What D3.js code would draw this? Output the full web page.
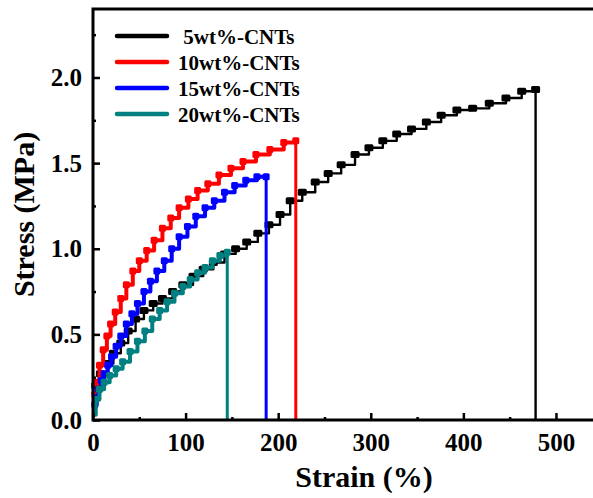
<!DOCTYPE html>
<html>
<head>
<meta charset="utf-8">
<script src="https://cdn.jsdelivr.net/npm/d3@7"></script>
<style>
  html, body { margin: 0; padding: 0; background: #fff; }
  svg { display: block; }
  text { font-family: "Liberation Serif", "Times New Roman", serif; font-weight: bold; fill: #000; }
</style>
</head>
<body>
<svg id="chart" width="593" height="498"></svg>
<script>
// Tensile stress–strain curves of the CNT composites
const seriesNames = [" 5wt%-CNTs", "10wt%-CNTs", "15wt%-CNTs", "20wt%-CNTs"];
const seriesColors = ["#000000", "#ff0000", "#0000ff", "#008080"];

const strain5 = [0,3,8,15,22,30,38,46,55,65,75,86,97,108,119,130,142,154,166,178,190,202,213,226,240,254,268,283,298,313,328,344,360,376,393,410,428,446,463,478];
const stress5 = [0.05,0.2,0.27,0.33,0.39,0.45,0.52,0.59,0.64,0.68,0.71,0.75,0.79,0.84,0.88,0.92,0.97,1.00,1.04,1.09,1.14,1.20,1.28,1.33,1.39,1.44,1.49,1.55,1.59,1.63,1.67,1.70,1.74,1.78,1.81,1.82,1.85,1.88,1.92,1.93];

const strain10 = [0,2,4,7,11,15,19,24,30,36,43,50,58,66,75,84,93,103,113,124,136,149,162,176,191,206,219];
const stress10 = [0.05,0.15,0.22,0.32,0.41,0.49,0.56,0.63,0.71,0.79,0.87,0.93,0.99,1.05,1.12,1.18,1.24,1.29,1.34,1.38,1.43,1.47,1.51,1.55,1.58,1.62,1.63];

const strain15 = [0,2,4,6,9,12,16,20,25,30,36,42,48,55,62,69,77,85,93,102,111,121,131,142,153,165,177,187];
const stress15 = [0.04,0.09,0.13,0.18,0.23,0.27,0.32,0.37,0.43,0.49,0.56,0.62,0.68,0.75,0.81,0.87,0.93,1.00,1.07,1.13,1.19,1.24,1.28,1.33,1.37,1.40,1.42,1.42];

const strain20 = [0,3,7,12,18,25,32,40,48,56,64,72,80,88,97,105,113,121,129,137,145];
const stress20 = [0.03,0.12,0.18,0.22,0.26,0.30,0.34,0.40,0.46,0.52,0.59,0.64,0.69,0.74,0.78,0.82,0.86,0.89,0.93,0.96,0.98];

const xTicks = [0, 100, 200, 300, 400, 500];
const yTicks = [0.0, 0.5, 1.0, 1.5, 2.0];

const strains = [strain5, strain10, strain15, strain20];
const stresses = [stress5, stress10, stress15, stress20];

const svg = d3.select("#chart");
const W = 593, H = 498;
const m = { left: 93, top: 9, right: 0, bottom: 78 };

const x = d3.scaleLinear().domain([0, 540]).range([m.left, W - m.right]);
const y = d3.scaleLinear().domain([0, 2.4]).range([H - m.bottom, m.top]);

const line = d3.line().x(d => x(d[0])).y(d => y(d[1])).curve(d3.curveStepAfter);

[0, 1, 2, 3].forEach(i => {
  const pts = strains[i].map((s, k) => [s, stresses[i][k]]);
  const g = svg.append("g");
  const w = i === 0 ? 2.4 : 4;
  g.append("path")
    .attr("d", line(pts))
    .attr("fill", "none")
    .attr("stroke", seriesColors[i])
    .attr("stroke-width", w)
    .attr("stroke-linejoin", "round");
  // fracture drop to zero stress
  const last = pts[pts.length - 1];
  g.append("line")
    .attr("x1", x(last[0])).attr("x2", x(last[0]))
    .attr("y1", y(last[1])).attr("y2", y(0))
    .attr("stroke", seriesColors[i])
    .attr("stroke-width", i === 0 ? 2.4 : 3);
  // square symbols at each step
  const sw = i === 0 ? 9 : 7, sh = i === 0 ? 7 : 7;
  g.selectAll("rect")
    .data(pts.slice(1))
    .join("rect")
    .attr("x", d => x(d[0]) - sw / 2)
    .attr("y", d => y(d[1]) - sh / 2)
    .attr("width", sw)
    .attr("height", sh)
    .attr("rx", 1.5)
    .attr("fill", seriesColors[i]);
});

// axes
const xAxis = d3.axisBottom(x).tickValues(xTicks).tickSize(-7).tickPadding(13).tickFormat(d3.format("d"));
const xMinor = d3.axisBottom(x).tickValues(d3.range(50, 550, 100)).tickSize(-3).tickFormat("");
const yAxis = d3.axisLeft(y).tickValues(yTicks).tickSize(-7).tickPadding(11).tickFormat(d3.format(".1f"));
const yMinor = d3.axisLeft(y).tickValues([0.25, 0.75, 1.25, 1.75, 2.25]).tickSize(-3).tickFormat("");

function styleAxis(g) {
  g.select(".domain").remove();
  g.selectAll(".tick line").attr("stroke", "#000").attr("stroke-width", 2.5);
  g.selectAll(".tick text").style("font-size", "25px").style("font-family", "Liberation Serif").style("font-weight", "bold");
}

svg.append("g").attr("transform", `translate(0,${y(0)})`).call(xAxis).call(styleAxis);
svg.append("g").attr("transform", `translate(0,${y(0)})`).call(xMinor).call(styleAxis);
svg.append("g").attr("transform", `translate(${x(0)},0)`).call(yAxis).call(styleAxis);
svg.append("g").attr("transform", `translate(${x(0)},0)`).call(yMinor).call(styleAxis);

// frame: left, bottom and top borders
svg.append("path")
  .attr("d", `M${W},${m.top}H${x(0)}V${y(0)}H${W}`)
  .attr("fill", "none")
  .attr("stroke", "#000")
  .attr("stroke-width", 3);

// axis titles
svg.append("text")
  .attr("x", 364).attr("y", 487)
  .attr("text-anchor", "middle")
  .style("font-size", "30px")
  .text("Strain (%)");
svg.append("text")
  .attr("transform", `translate(34,${(y(0) + y(2.4)) / 2}) rotate(-90)`)
  .attr("text-anchor", "middle")
  .style("font-size", "30px")
  .text("Stress (MPa)");

// legend
const legend = svg.append("g");
seriesNames.forEach((name, i) => {
  const ly = 36 + i * 26;
  legend.append("line")
    .attr("x1", 117).attr("x2", 167)
    .attr("y1", ly).attr("y2", ly)
    .attr("stroke", seriesColors[i])
    .attr("stroke-width", 4.5)
    .attr("stroke-linecap", "round");
  legend.append("text")
    .attr("x", 178).attr("y", ly + 8)
    .attr("xml:space", "preserve")
    .style("white-space", "pre")
    .style("font-size", "21px")
    .text(name);
});
</script>
</body>
</html>
